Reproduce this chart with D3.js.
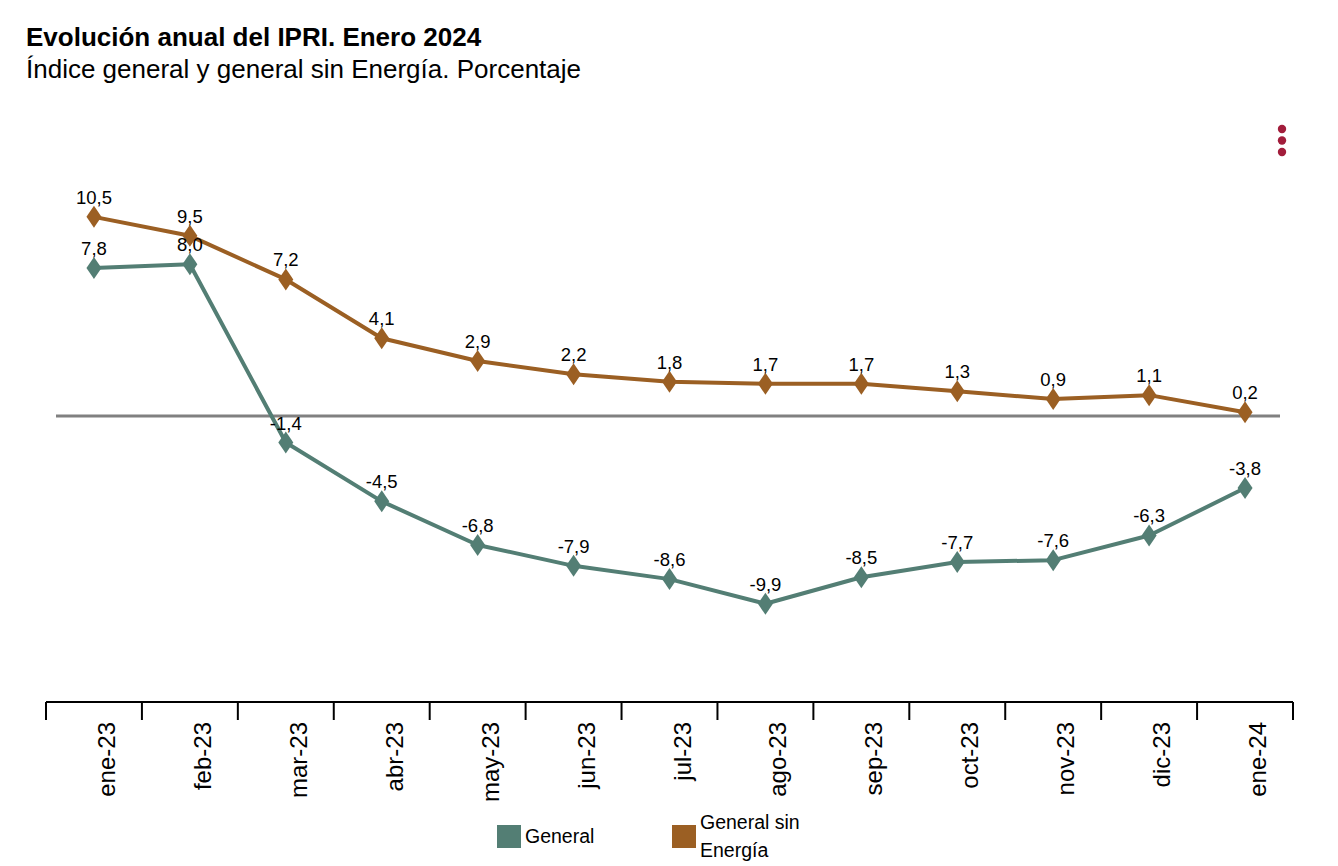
<!DOCTYPE html>
<html><head><meta charset="utf-8">
<script src="https://cdn.jsdelivr.net/npm/d3@7"></script>
<style>body{margin:0;background:#fff;}svg{display:block;}</style>
</head><body>
<svg id="chart" width="1338" height="866"></svg>
<script>
const categories = ["ene-23","feb-23","mar-23","abr-23","may-23","jun-23","jul-23","ago-23","sep-23","oct-23","nov-23","dic-23","ene-24"];
const general = [7.8, 8.0, -1.4, -4.5, -6.8, -7.9, -8.6, -9.9, -8.5, -7.7, -7.6, -6.3, -3.8];
const generalSinEnergia = [10.5, 9.5, 7.2, 4.1, 2.9, 2.2, 1.8, 1.7, 1.7, 1.3, 0.9, 1.1, 0.2];
const seriesNames = ["General", "General sin Energía"];
const colors = ["#537e74", "#9b5f23"];

const svg = d3.select("#chart");
const x = d3.scaleBand().domain(categories).range([46, 1293]);
const y = d3.scaleLinear().domain([-15, 15]).range([700.5, 131.5]);
const FONT = "Liberation Sans, Arial, sans-serif";

// Title
svg.append("text").attr("x", 26).attr("y", 46).attr("font-family", FONT)
  .attr("font-size", 26).attr("font-weight", "bold").attr("fill", "#000").text("Evolución anual del IPRI. Enero 2024");
svg.append("text").attr("x", 26).attr("y", 78).attr("font-family", FONT)
  .attr("font-size", 26).attr("fill", "#000").text("Índice general y general sin Energía. Porcentaje");

// menu dots
[129, 140.5, 152].forEach(cy => svg.append("circle").attr("cx", 1282).attr("cy", cy).attr("r", 4.2).attr("fill", "#a21d3b"));

// zero line
svg.append("line").attr("x1", 56).attr("x2", 1280).attr("y1", y(0)).attr("y2", y(0))
  .attr("stroke", "#808080").attr("stroke-width", 3);

// x axis
const axisY = 702;
const xAxis = d3.axisBottom(x).tickSize(0).tickFormat(d => d);
const ax = svg.append("g").attr("transform", `translate(0,${axisY})`).call(xAxis);
ax.select(".domain").attr("stroke", "#000").attr("stroke-width", 2).attr("d", "M46,0H1293");
ax.selectAll(".tick text").remove();
const bounds = categories.map(c => x(c)).concat([x.range()[1]]);
ax.selectAll(".bt").data(bounds).enter().append("line").attr("class", "bt")
  .attr("x1", d => d).attr("x2", d => d).attr("y1", 0).attr("y2", 18).attr("stroke", "#000").attr("stroke-width", 2);
ax.selectAll(".lbl").data(categories).enter().append("text").attr("class", "lbl")
  .attr("transform", d => `translate(${x(d) + x.bandwidth()/2 + 21},20) rotate(-90)`)
  .attr("text-anchor", "end").attr("font-family", FONT).attr("font-size", 24)
  .attr("fill", "#000").text(d => d);

const cx = d => x(d) + x.bandwidth() / 2;
const fmt = v => v.toFixed(1).replace(".", ",");

[generalSinEnergia, general].forEach((vals, si) => {
  const color = si === 0 ? colors[1] : colors[0];
  const pts = categories.map((c, i) => [cx(c), y(vals[i])]);
  svg.append("path").attr("d", d3.line()(pts))
    .attr("fill", "none").attr("stroke", color).attr("stroke-width", 4).attr("stroke-linejoin", "round");
  svg.append("g").selectAll("path").data(pts).enter().append("path")
    .attr("d", p => `M${p[0]},${p[1]-11}L${p[0]+7.5},${p[1]}L${p[0]},${p[1]+11}L${p[0]-7.5},${p[1]}Z`)
    .attr("fill", color);
});
[generalSinEnergia, general].forEach(vals => {
  svg.append("g").selectAll("text").data(categories).enter().append("text")
    .attr("x", c => cx(c)).attr("y", (c, i) => y(vals[i]) - 13)
    .attr("text-anchor", "middle").attr("font-family", FONT)
    .attr("font-size", 18.5).attr("fill", "#000").text((c, i) => fmt(vals[i]));
});

// legend
const legend = [{name: seriesNames[0], color: colors[0], x: 497}, {name: seriesNames[1], color: colors[1], x: 672}];
legend.forEach(l => {
  svg.append("rect").attr("x", l.x).attr("y", 825).attr("width", 24).attr("height", 23).attr("fill", l.color);
});
svg.append("text").attr("x", 525).attr("y", 843).attr("font-family", FONT)
  .attr("font-size", 19.5).text(seriesNames[0]);
const t2 = svg.append("text").attr("font-family", FONT).attr("font-size", 19.5);
t2.append("tspan").attr("x", 700).attr("y", 829).text("General sin");
t2.append("tspan").attr("x", 700).attr("y", 857).text("Energía");
</script>
</body></html>
